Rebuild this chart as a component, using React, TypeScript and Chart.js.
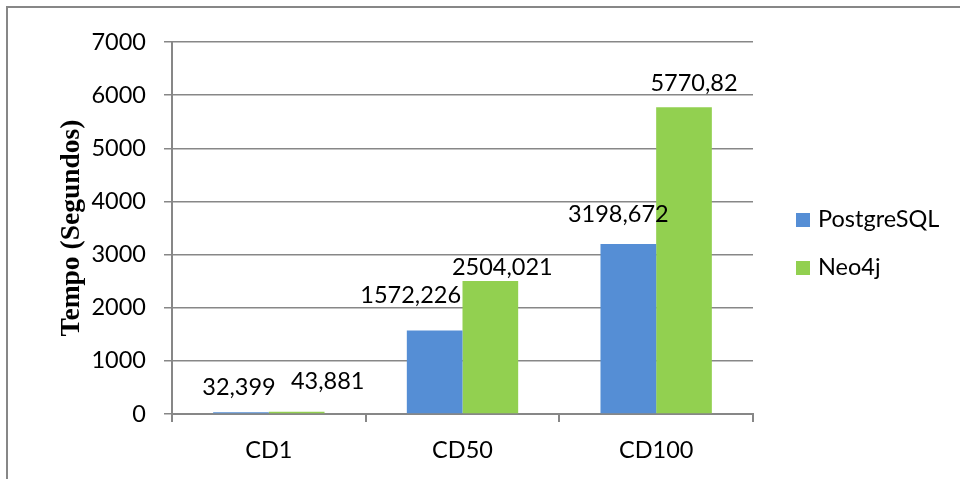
import React, { useEffect, useRef } from "react";
import { Chart, registerables } from "chart.js";

Chart.register(...registerables);

const categories = ["CD1", "CD50", "CD100"];
const seriesNames = ["PostgreSQL", "Neo4j"];
const postgresValues = [32.399, 1572.226, 3198.672];
const neo4jValues = [43.881, 2504.021, 5770.82];
const postgresLabels = ["32,399", "1572,226", "3198,672"];
const neo4jLabels = ["43,881", "2504,021", "5770,82"];
const yTicks = [0, 1000, 2000, 3000, 4000, 5000, 6000, 7000];
const yTitle = "Tempo (Segundos)";

const colors = ["#558ED5", "#92D050"];
// manual nudges of value labels (dx, distance of baseline above bar top)
const labelNudges = [
  [[-2, 17], [-24, 27], [-10, 22]],
  [[31, 23], [12, 6], [10, 16]],
];

const FONT = "Lato, 'Open Sans', sans-serif";
const GRAY = "#878787";

const decorPlugin = {
  id: "decor",
  afterDatasetsDraw(chart: any) {
    const ctx = chart.ctx;
    ctx.save();
    const labelSets = [postgresLabels, neo4jLabels];
    chart.data.datasets.forEach((ds: any, di: number) => {
      const meta = chart.getDatasetMeta(di);
      meta.data.forEach((bar: any, i: number) => {
        const [dx, dy] = labelNudges[di][i];
        ctx.font = `23.5px ${FONT}`;
        ctx.fillStyle = "#000";
        ctx.textAlign = "center";
        ctx.textBaseline = "alphabetic";
        ctx.fillText(labelSets[di][i], bar.x + dx, bar.y - dy);
      });
    });
    const legendX = 796;
    const legendY = [213, 261];
    chart.data.datasets.forEach((ds: any, di: number) => {
      ctx.fillStyle = ds.backgroundColor;
      ctx.fillRect(legendX, legendY[di], 14, 14);
      ctx.fillStyle = "#000";
      ctx.font = `23.5px ${FONT}`;
      ctx.textAlign = "left";
      ctx.textBaseline = "alphabetic";
      ctx.fillText(ds.label, legendX + 22, legendY[di] + 14);
    });
    ctx.strokeStyle = GRAY;
    ctx.lineWidth = 2;
    ctx.beginPath();
    ctx.moveTo(7, 479);
    ctx.lineTo(7, 7);
    ctx.lineTo(960, 7);
    ctx.stroke();
    ctx.restore();
  },
};

export default function App() {
  const ref = useRef<HTMLCanvasElement | null>(null);
  useEffect(() => {
    if (!ref.current) return;
    const chart = new Chart(ref.current, {
      type: "bar",
      data: {
        labels: categories,
        datasets: [
          { label: seriesNames[0], data: postgresValues, backgroundColor: colors[0] },
          { label: seriesNames[1], data: neo4jValues, backgroundColor: colors[1] },
        ],
      },
      options: {
        responsive: false,
        animation: false,
        layout: { padding: { left: 0, top: 42, right: 207, bottom: 0 } },
        plugins: { legend: { display: false }, tooltip: { enabled: false } },
        datasets: { bar: { categoryPercentage: 0.575, barPercentage: 1 } },
        scales: {
          x: {
            grid: { drawOnChartArea: false, drawTicks: true, tickLength: 8, color: GRAY, lineWidth: 2 },
            border: { display: true, color: GRAY, width: 2 },
            ticks: { color: "#000", font: { family: FONT, size: 23.5 }, padding: 14 },
            afterFit: (s: any) => { s.height = 65; },
          },
          y: {
            min: 0,
            max: 7000,
            afterBuildTicks: (s: any) => { s.ticks = yTicks.map((v) => ({ value: v })); },
            grid: { color: GRAY, lineWidth: 1.5, tickLength: 8 },
            border: { display: true, color: GRAY, width: 2 },
            ticks: { color: "#000", font: { family: FONT, size: 23.5 }, padding: 18, callback: (v: any) => String(v) },
            title: {
              display: true,
              text: yTitle,
              color: "#000",
              font: { family: "'Liberation Serif', 'Times New Roman', serif", size: 27.5, weight: "bold" },
              padding: { top: 55, bottom: 0 },
            },
            afterFit: (s: any) => { s.width = 172; },
          },
        },
      },
      plugins: [decorPlugin],
    } as any);
    return () => chart.destroy();
  }, []);
  return (
    <div style={{ position: "absolute", left: 0, top: 0, width: 960, height: 479, background: "#fff" }}>
      <canvas ref={ref} width={960} height={479} style={{ display: "block" }} />
    </div>
  );
}
